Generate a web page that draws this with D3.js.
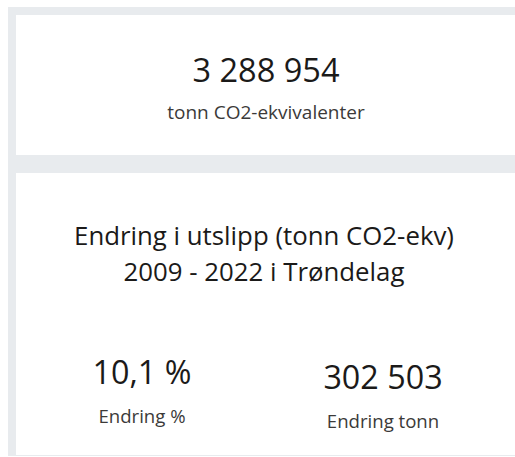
<!DOCTYPE html>
<html>
<head>
<meta charset="utf-8">
<script src="https://cdn.jsdelivr.net/npm/d3@7"></script>
<style>
  html, body { margin: 0; padding: 0; background: #fff; }
  svg { display: block; }
  text { font-family: "Segoe UI", "Open Sans", "Noto Sans", sans-serif; }
</style>
</head>
<body>
<div id="chart"></div>
<script>
'use strict';

// Top card: total emission
var totalValue = [3288954];
var totalLabel = ['tonn CO2-ekvivalenter'];

// Bottom card: change between years
var titleLines = ['Endring i utslipp (tonn CO2-ekv)', '2009 - 2022 i Trøndelag'];
var changeValues = [10.1, 302503];
var changeLabels = ['Endring %', 'Endring tonn'];
var changeUnits = ['percent', 'tonn'];

var width = 515, height = 457;

// Norwegian number format: space as thousands separator, comma decimal
var no = d3.formatLocale({decimal: ',', thousands: '\u00a0', grouping: [3], currency: ['', ' kr']});
var fmtInt = no.format(',d');
var fmtPct = function(v) { return no.format(',.1f')(v) + '\u00a0%'; };

var svg = d3.select('#chart').append('svg')
    .attr('width', width)
    .attr('height', height);

// Gray frame behind the cards
svg.append('rect')
    .attr('x', 8).attr('y', 7)
    .attr('width', width - 8).attr('height', 449)
    .attr('fill', '#e8ebee');

var cards = [
    {x: 16, y: 15, w: width - 16, h: 140},
    {x: 16, y: 173, w: width - 16, h: 282}
];
svg.selectAll('rect.card')
    .data(cards)
  .enter().append('rect')
    .attr('class', 'card')
    .attr('x', function(d) { return d.x; })
    .attr('y', function(d) { return d.y; })
    .attr('width', function(d) { return d.w; })
    .attr('height', function(d) { return d.h; })
    .attr('fill', '#fff');

// Top card texts
var topCard = svg.append('g');
topCard.selectAll('text.value')
    .data(totalValue)
  .enter().append('text')
    .attr('class', 'value')
    .attr('x', 266).attr('y', 82)
    .attr('text-anchor', 'middle')
    .attr('font-size', 32.5)
    .attr('fill', '#1b1a19')
    .text(fmtInt);
topCard.selectAll('text.label')
    .data(totalLabel)
  .enter().append('text')
    .attr('class', 'label')
    .attr('x', 266).attr('y', 119)
    .attr('text-anchor', 'middle')
    .attr('font-size', 19)
    .attr('fill', '#3b3a39')
    .text(function(d) { return d; });

// Bottom card title
var lineY = d3.scaleLinear().domain([0, 1]).range([245, 280.5]);
svg.selectAll('text.title')
    .data(titleLines)
  .enter().append('text')
    .attr('class', 'title')
    .attr('x', 264)
    .attr('y', function(d, i) { return lineY(i); })
    .attr('text-anchor', 'middle')
    .attr('font-size', 25.8)
    .attr('fill', '#1b1a19')
    .text(function(d) { return d; });

// Two KPI columns
var colX = d3.scalePoint().domain(d3.range(changeValues.length)).range([142, 383]);
var valueY = [384, 389];
var labelY = [423, 428];

var kpi = svg.selectAll('g.kpi')
    .data(changeValues)
  .enter().append('g')
    .attr('class', 'kpi')
    .attr('transform', function(d, i) { return 'translate(' + colX(i) + ',0)'; });

kpi.append('text')
    .attr('y', function(d, i) { return valueY[i]; })
    .attr('text-anchor', 'middle')
    .attr('font-size', 32.3)
    .attr('fill', '#1b1a19')
    .text(function(d, i) { return changeUnits[i] === 'percent' ? fmtPct(d) : fmtInt(d); });

kpi.append('text')
    .attr('y', function(d, i) { return labelY[i]; })
    .attr('text-anchor', 'middle')
    .attr('font-size', 18.6)
    .attr('fill', '#3b3a39')
    .text(function(d, i) { return changeLabels[i]; });
</script>
</body>
</html>
